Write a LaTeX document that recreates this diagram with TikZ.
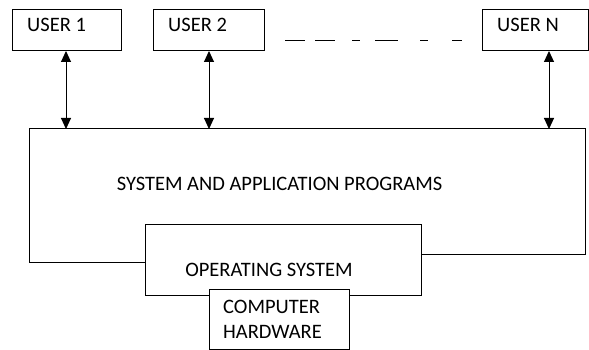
\documentclass[tikz,border=0pt]{standalone}
\usepackage{fontspec}
\setmainfont{Carlito}
\usetikzlibrary{arrows.meta}
\begin{document}
\begin{tikzpicture}[x=1pt,y=-1pt,
  box/.style={draw=black,line width=1pt,fill=white,inner sep=0pt,anchor=north west},
  lbl/.style={inner sep=0pt,font=\fontsize{20.5}{24}\selectfont,text=black},
  dbl/.style={>={Triangle[width=10pt,length=11pt]},<->,line width=1pt},
  edge/.style={draw=black,line width=1pt}]
\useasboundingbox (0,0) rectangle (589,350);
% user boxes
\node[box,minimum width=109pt,minimum height=41pt] (u1) at (12,9) {};
\node[box,minimum width=111pt,minimum height=41pt] (u2) at (153,9) {};
\node[box,minimum width=106pt,minimum height=41pt] (un) at (482,9) {};
\node[lbl,anchor=west] (t1) at (27,25) {USER 1};
\node[lbl,anchor=west] (t2) at (168,25) {USER 2};
\node[lbl,anchor=west] (tn) at (497,25) {USER N};
% dashes
\draw[line width=1pt] (285,41)--(305,41) (315,41)--(335,41) (352,41)--(360,41)
  (375,41)--(398,41) (420,41)--(428,41) (452,41)--(462,41);
% system and application programs outline
\coordinate (a1) at (145,262);
\coordinate (a2) at (29,262);
\coordinate (a3) at (29,129);
\coordinate (a4) at (585,129);
\coordinate (a5) at (585,254);
\coordinate (a6) at (421,254);
\draw[edge] (a1)--(a2)--(a3)--(a4)--(a5)--(a6);
\node[lbl] (sap) at (279.5,184) {SYSTEM AND APPLICATION PROGRAMS};
% arrows
\coordinate (b1) at (66,129);
\coordinate (b2) at (209,129);
\coordinate (bn) at (549,129);
\draw[dbl] (u1.south -| b1) -- (b1);
\draw[dbl] (u2.south -| b2) -- (b2);
\draw[dbl] (un.south -| bn) -- (bn);
% operating system
\node[box,minimum width=276pt,minimum height=71pt] (os) at (145,224) {};
\node[lbl] (ost) at (269,270) {OPERATING SYSTEM};
% hardware
\node[box,minimum width=140pt,minimum height=60pt] (hw) at (209,289) {};
\node[lbl,anchor=west] (hw1) at (223,307) {COMPUTER};
\node[lbl,anchor=west] (hw2) at (223,332) {HARDWARE};
\end{tikzpicture}
\end{document}
